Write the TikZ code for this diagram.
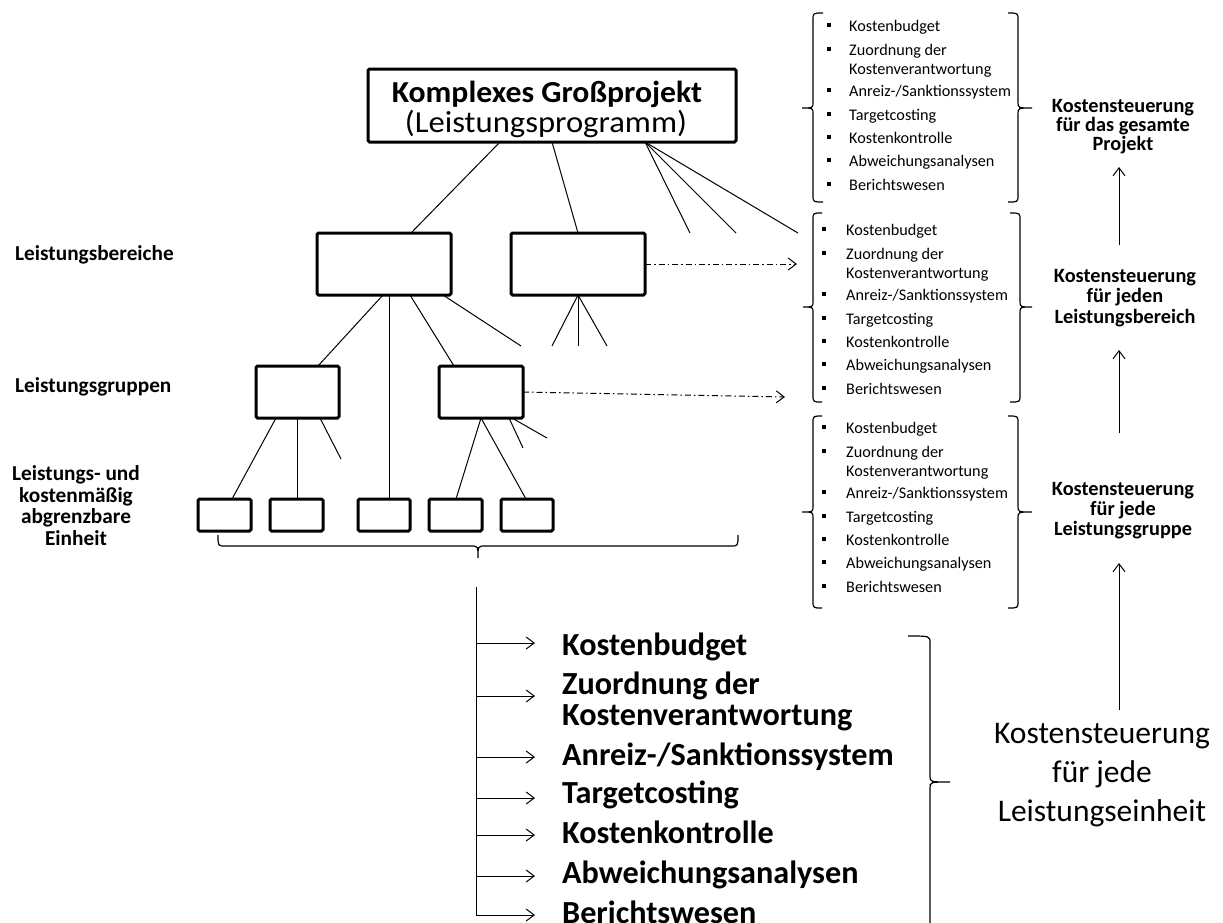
\documentclass[tikz,border=0pt]{standalone}
\usepackage{fontspec}
\setmainfont{Carlito}
\usetikzlibrary{arrows.meta,calc}
\newcommand{\mybracev}[6]{%
  \draw[brc] (#1,#4) .. controls (#2,#4) .. (#2,#4+7) -- (#2,#5-6)
    .. controls (#2,#5) .. (#3,#5) .. controls (#2,#5) .. (#2,#5+6)
    -- (#2,#6-7) .. controls (#2,#6) .. (#1,#6);}
\begin{document}
\begin{tikzpicture}[x=1pt,y=-1pt,
  box/.style={draw, line width=3pt, rounded corners=1.5pt, inner sep=0pt, outer sep=0pt},
  conn/.style={line width=1pt},
  tipb/.style={-{Straight Barb[length=8pt,width=12pt]}},
  dd/.style={line width=1pt, dash pattern=on 6pt off 3pt on 1.5pt off 3pt, tipb},
  arr/.style={line width=1pt, tipb},
  brc/.style={line width=1.2pt},
  small/.style={font=\fontsize{16.2}{18}\selectfont, inner sep=0pt, anchor=base west},
  lab/.style={font=\bfseries\fontsize{20.3}{22}\selectfont, inner sep=0pt, anchor=base},
  labl/.style={font=\bfseries\fontsize{21.3}{23}\selectfont, inner sep=0pt, anchor=base},
  labw/.style={font=\bfseries\fontsize{21.3}{23}\selectfont, inner sep=0pt, anchor=base west},
  biglist/.style={font=\bfseries\fontsize{32.2}{34}\selectfont, inner sep=0pt, anchor=base west},
  bigreg/.style={font=\fontsize{31.5}{34}\selectfont, inner sep=0pt, anchor=base},
]
\useasboundingbox (0,0) rectangle (1223,922);

% ---------- tree ----------
\node[box, minimum width=368pt, minimum height=73pt] (top) at (552,105.5) {};
\node[font=\bfseries\fontsize{30.5}{32}\selectfont, inner sep=0pt, anchor=base, xscale=1.04] (toptxt1) at (547,102) {Komplexes Großprojekt};
\node[font=\fontsize{30.5}{32}\selectfont, inner sep=0pt, anchor=base, xscale=1.07] (toptxt2) at (546,132) {(Leistungsprogramm)};

\node[box, minimum width=134pt, minimum height=62pt] (b1) at (384,264) {};
\node[box, minimum width=134pt, minimum height=62pt] (b2) at (578,264) {};

\node[box, minimum width=83pt, minimum height=52pt] (g1) at (297.5,392) {};
\node[box, minimum width=84pt, minimum height=52pt] (g2) at (481,392) {};

\node[box, minimum width=53pt, minimum height=32pt] (u1) at (224.5,515) {};
\node[box, minimum width=53pt, minimum height=32pt] (u2) at (296.5,515) {};
\node[box, minimum width=52pt, minimum height=32pt] (u3) at (384,515) {};
\node[box, minimum width=53pt, minimum height=32pt] (u4) at (455.5,515) {};
\node[box, minimum width=52pt, minimum height=32pt] (u5) at (527,515) {};

% free ends
\coordinate (f1) at (690,233);
\coordinate (f2) at (736,233);
\coordinate (f3) at (798,233);
\coordinate (f4) at (521,346);
\coordinate (f5) at (552,346);
\coordinate (f6) at (578,346);
\coordinate (f7) at (607,346);
\coordinate (f8) at (341,459);
\coordinate (f9) at (523,448);
\coordinate (f10) at (547,438);
\coordinate (d1) at (797,264);
\coordinate (d2) at (785,397);

\draw[conn] ([xshift=132pt]top.south west) -- ([xshift=94pt]b1.north west);
\draw[conn] ([xshift=184pt]top.south west) -- (b2.north);
\draw[conn] ([xshift=277pt]top.south west) -- (f1);
\draw[conn] ([xshift=277pt]top.south west) -- (f2);
\draw[conn] ([xshift=277pt]top.south west) -- (f3);

\draw[conn] ([xshift=66pt]b1.south west) -- ([xshift=62pt]g1.north west);
\draw[conn] ([xshift=72pt]b1.south west) -- ([xshift=31pt]u3.north west);
\draw[conn] ([xshift=93pt]b1.south west) -- ([xshift=15pt]g2.north west);
\draw[conn] ([xshift=126pt]b1.south west) -- (f4);

\draw[conn] (b2.south) -- (f5);
\draw[conn] (b2.south) -- (f6);
\draw[conn] (b2.south) -- (f7);

\draw[conn] ([xshift=20pt]g1.south west) -- ([xshift=34pt]u1.north west);
\draw[conn] ([xshift=41pt]g1.south west) -- ([xshift=27pt]u2.north west);
\draw[conn] ([xshift=64pt]g1.south west) -- (f8);

\draw[conn] ([xshift=42pt]g2.south west) -- ([xshift=27pt]u4.north west);
\draw[conn] ([xshift=42pt]g2.south west) -- ([xshift=25pt]u5.north west);
\draw[conn] ([xshift=70pt]g2.south west) -- (f9);
\draw[conn] ([xshift=73pt]g2.south west) -- (f10);

\draw[dd] (b2.east) -- (d1);
\draw[dd] (g2.east) -- (d2);

% ---------- left labels ----------
\node[labw] (lb) at (15,260) {Leistungsbereiche};
\node[labw] (lg) at (15,392) {Leistungsgruppen};
\node[labl] (le1) at (76,480) {Leistungs- und};
\node[labl] (le2) at (76,502) {kostenmäßig};
\node[labl] (le3) at (76,523) {abgrenzbare};
\node[labl] (le4) at (76,545) {Einheit};

% ---------- right lists ----------
\foreach \s/\base/\tx/\bx in {1/31/849/829, 2/235/846/824, 3/433/846/824}{
  \foreach \t/\off/\bul [count=\k] in {Kostenbudget/0/1, Zuordnung der/24/1, Kostenverantwortung/43/0,
      {Anreiz-/Sanktionssystem}/65/1, Targetcosting/89/1, Kostenkontrolle/112/1,
      Abweichungsanalysen/135/1, Berichtswesen/159/1}{
    \node[small] (s\s l\k) at (\tx,\base+\off) {\t};
    \ifnum\bul=1
      \fill (\bx-2,\base+\off-8) rectangle (\bx+2,\base+\off-4);
    \fi
  }
}

% braces of right lists
\mybracev{823}{813}{802}{13}{108}{202}
\mybracev{1008}{1018}{1032}{13}{108}{202}
\mybracev{822}{813}{803}{213}{307}{402}
\mybracev{1010}{1020}{1032}{213}{307}{402}
\mybracev{822}{813}{802}{416}{512}{608}
\mybracev{1008}{1018}{1032}{416}{512}{608}

% right labels
\node[lab] (r1a) at (1123,112) {Kostensteuerung};
\node[lab] (r1b) at (1123,131) {für das gesamte};
\node[lab] (r1c) at (1123,150) {Projekt};
\node[lab] (r2a) at (1125,282) {Kostensteuerung};
\node[lab] (r2b) at (1125,302) {für jeden};
\node[lab] (r2c) at (1125,323) {Leistungsbereich};
\node[lab] (r3a) at (1123,495) {Kostensteuerung};
\node[lab] (r3b) at (1123,515) {für jede};
\node[lab] (r3c) at (1123,535) {Leistungsgruppe};
\node[bigreg] (r4a) at (1102,743) {Kostensteuerung};
\node[bigreg] (r4b) at (1102,782) {für jede};
\node[bigreg] (r4c) at (1102,821) {Leistungseinheit};

\coordinate (va1) at (1119,245); \coordinate (vb1) at (1119,167);
\coordinate (va2) at (1119,433); \coordinate (vb2) at (1119,350);
\coordinate (va3) at (1119,710); \coordinate (vb3) at (1119,563);
\draw[arr] (va1) -- (vb1);
\draw[arr] (va2) -- (vb2);
\draw[arr] (va3) -- (vb3);

% ---------- bottom brace & list ----------
\draw[brc] (218,535) .. controls (218,546) .. (225,546) -- (471,546)
  .. controls (478,546) .. (478,558) .. controls (478,546) .. (485,546)
  -- (731,546) .. controls (738,546) .. (738,535);
\coordinate (vt) at (476,587);
\coordinate (vbot) at (476,915);
\draw[conn] (vt) -- (vbot);

\foreach \t/\y/\ay [count=\k] in {Kostenbudget/655/643, Zuordnung der/694/696,
    {Anreiz-/Sanktionssystem}/765/757, Targetcosting/803/798, Kostenkontrolle/843/835,
    Abweichungsanalysen/883/876, Berichtswesen/923/915}{
  \node[biglist] (bl\k) at (562,\y) {\t};
  \coordinate (ba\k) at (476,\ay);
  \coordinate (bb\k) at (535,\ay);
  \draw[arr] (ba\k) -- (bb\k);
}
\node[biglist] (blx) at (562,725) {Kostenverantwortung};

\mybracev{908}{930}{950}{636}{782}{928}
\end{tikzpicture}
\end{document}
